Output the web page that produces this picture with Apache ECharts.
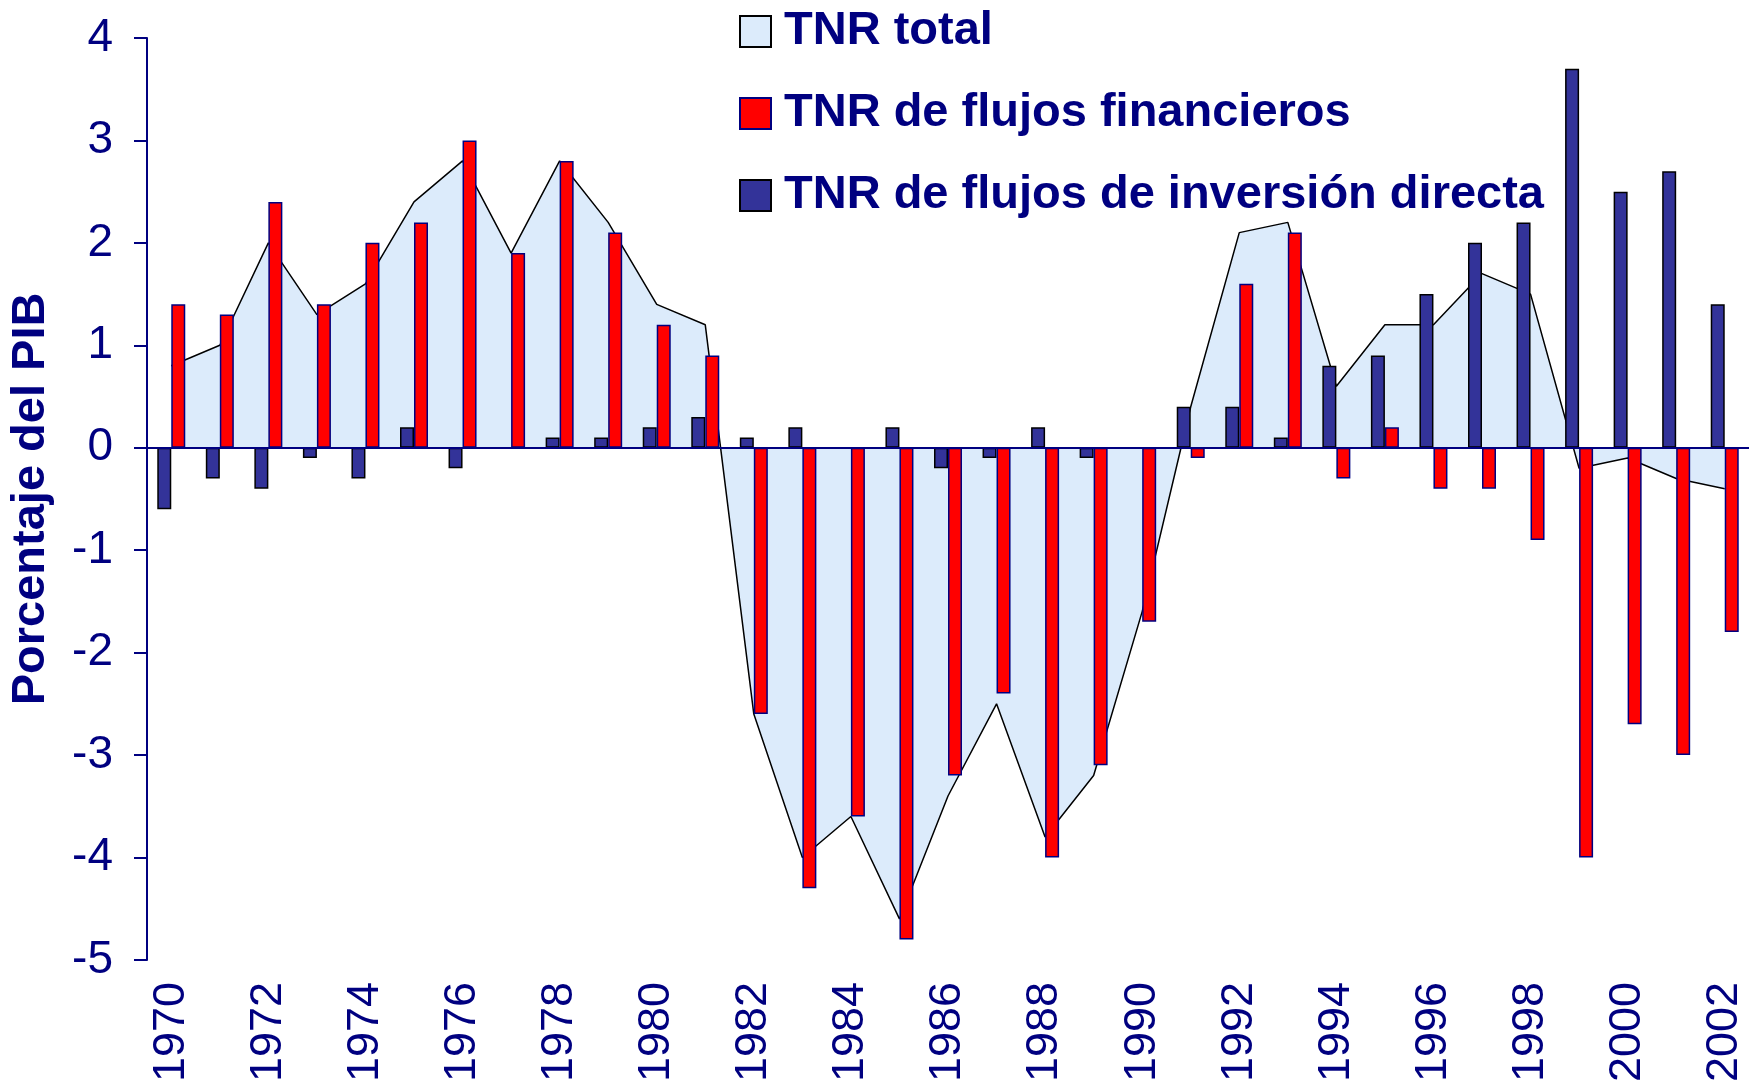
<!DOCTYPE html>
<html>
<head>
<meta charset="utf-8">
<script src="https://cdn.jsdelivr.net/npm/echarts@6/dist/echarts.min.js"></script>
<style>
  html, body { margin: 0; padding: 0; background: #fff; }
  #chart { width: 1758px; height: 1085px; }
</style>
</head>
<body>
<div id="chart"></div>
<script>
// años
const years = ["1970", "1971", "1972", "1973", "1974", "1975", "1976", "1977", "1978", "1979",
  "1980", "1981", "1982", "1983", "1984", "1985", "1986", "1987", "1988", "1989",
  "1990", "1991", "1992", "1993", "1994", "1995", "1996", "1997", "1998", "1999",
  "2000", "2001", "2002"];

// TNR total (área)
const tnrTotal = [0.8, 1.0, 2.0, 1.3, 1.6, 2.4, 2.8, 1.9, 2.8, 2.2,
  1.4, 1.2, -2.6, -4.0, -3.6, -4.6, -3.4, -2.5, -3.8, -3.2,
  -1.6, 0.4, 2.1, 2.2, 0.6, 1.2, 1.2, 1.7, 1.5, -0.2,
  -0.1, -0.3, -0.4];

// TNR de flujos financieros (barras rojas)
const tnrFinancieros = [1.4, 1.3, 2.4, 1.4, 2.0, 2.2, 3.0, 1.9, 2.8, 2.1,
  1.2, 0.9, -2.6, -4.3, -3.6, -4.8, -3.2, -2.4, -4.0, -3.1,
  -1.7, -0.1, 1.6, 2.1, -0.3, 0.2, -0.4, -0.4, -0.9, -4.0,
  -2.7, -3.0, -1.8];

// TNR de flujos de inversión directa (barras azules)
const tnrInversion = [-0.6, -0.3, -0.4, -0.1, -0.3, 0.2, -0.2, 0, 0.1, 0.1,
  0.2, 0.3, 0.1, 0.2, 0, 0.2, -0.2, -0.1, 0.2, -0.1,
  0, 0.4, 0.4, 0.1, 0.8, 0.9, 1.5, 2.0, 2.2, 3.7,
  2.5, 2.7, 1.4];

const seriesNames = ["TNR total", "TNR de flujos financieros", "TNR de flujos de inversión directa"];

const navy = "#000080";
const fontFam = "'Liberation Sans', Arial, sans-serif";

const myChart = echarts.init(document.getElementById("chart"));

const option = {
  animation: false,
  backgroundColor: "#fff",
  grid: {
    left: 142,
    right: 9,
    top: 38,
    bottom: 122,
    containLabel: false
  },
  legend: {
    orient: "vertical",
    left: 734,
    top: 3,
    itemWidth: 31,
    itemHeight: 31,
    itemGap: 35,
    selectedMode: false,
    textStyle: {
      color: navy,
      fontSize: 47,
      fontWeight: "bold",
      fontFamily: fontFam,
      lineHeight: 47,
      padding: [0, 0, 0, 8]
    },
    data: [
      { name: seriesNames[0], icon: "rect", itemStyle: { color: "#DCEBFB", borderColor: "#000", borderWidth: 2 } },
      { name: seriesNames[1], icon: "rect", itemStyle: { color: "#FF0000", borderColor: navy, borderWidth: 2 } },
      { name: seriesNames[2], icon: "rect", itemStyle: { color: "#333399", borderColor: "#000", borderWidth: 2 } }
    ]
  },
  xAxis: {
    type: "category",
    data: years,
    boundaryGap: true,
    axisLine: { show: false, onZero: false },
    axisTick: { show: false },
    splitLine: { show: false },
    axisLabel: {
      interval: 1,
      rotate: 90,
      margin: 22,
      color: navy,
      fontSize: 45,
      fontFamily: fontFam
    }
  },
  yAxis: {
    type: "value",
    min: -5,
    max: 4,
    interval: 1,
    name: "Porcentaje del PIB",
    nameLocation: "middle",
    nameGap: 92,
    nameTextStyle: {
      color: navy,
      fontSize: 47,
      fontWeight: "bold",
      fontFamily: fontFam
    },
    axisLine: { show: true, lineStyle: { color: navy, width: 2 } },
    axisTick: { show: true, inside: false, length: 13, lineStyle: { color: navy, width: 2 } },
    splitLine: { show: false },
    axisLabel: {
      margin: 34,
      color: navy,
      fontSize: 46,
      fontFamily: fontFam
    }
  },
  series: [
    {
      name: seriesNames[0],
      type: "line",
      data: tnrTotal,
      z: 1,
      symbol: "none",
      lineStyle: { color: "#000", width: 1.5 },
      itemStyle: { color: "#DCEBFB", borderColor: "#000" },
      areaStyle: { color: "#DCEBFB", opacity: 1 }
    },
    {
      name: seriesNames[2],
      type: "bar",
      data: tnrInversion,
      z: 3,
      barWidth: 14,
      barGap: "0%",
      itemStyle: { color: "#333399", borderColor: "#000", borderWidth: 1.5 }
    },
    {
      name: seriesNames[1],
      type: "bar",
      data: tnrFinancieros,
      z: 3,
      barWidth: 14,
      barGap: "0%",
      itemStyle: { color: "#FF0000", borderColor: navy, borderWidth: 1.5 },
      markLine: {
        silent: true,
        symbol: "none",
        z: 5,
        label: { show: false },
        lineStyle: { color: navy, width: 2, type: "solid" },
        data: [{ yAxis: 0 }]
      }
    }
  ]
};

myChart.setOption(option);
window.addEventListener("resize", () => {
  myChart.resize();
});
</script>
</body>
</html>
